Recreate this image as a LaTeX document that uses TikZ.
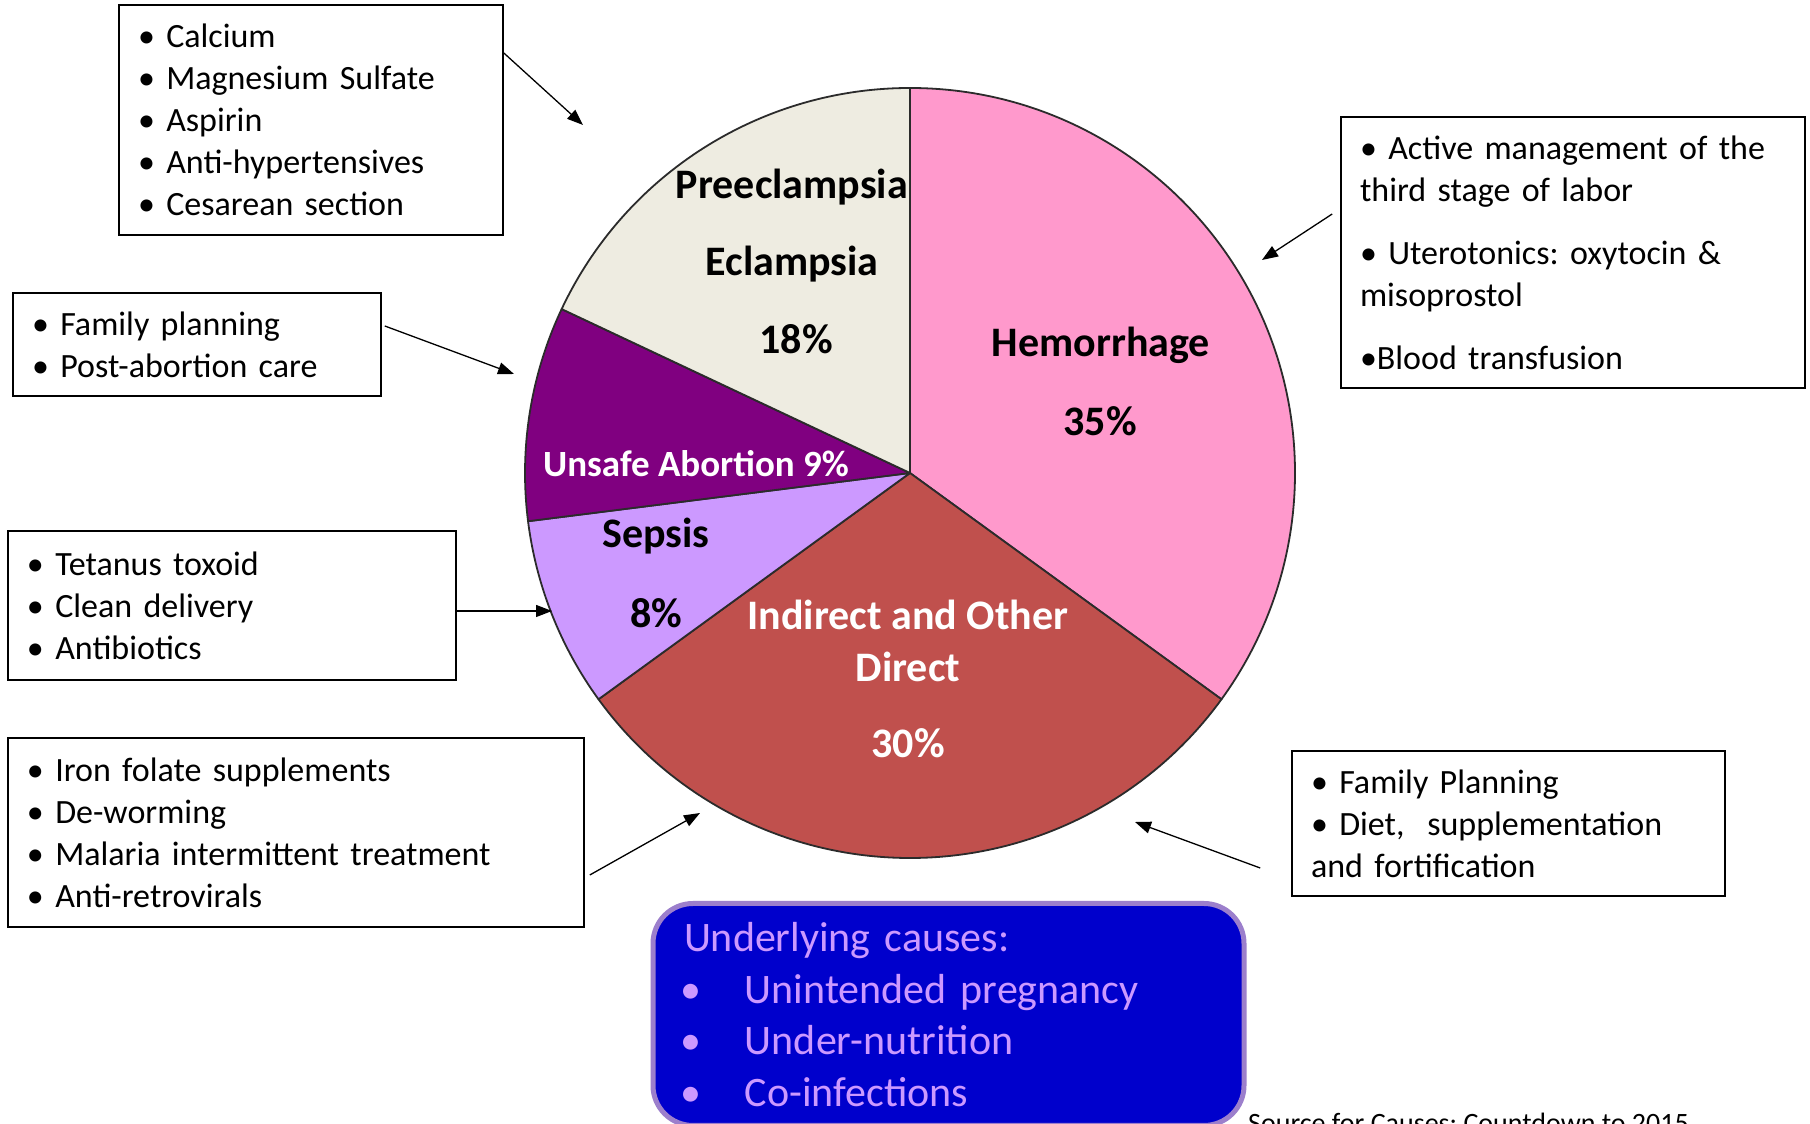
\documentclass[tikz,border=0pt]{standalone}
\usepackage{fontspec}
\setmainfont{Carlito}
\frenchspacing
\usetikzlibrary{arrows.meta,positioning,calc}
\definecolor{ink}{HTML}{000000}
\definecolor{rim}{HTML}{2B2B2B}
\definecolor{hemo}{HTML}{FF99CC}
\definecolor{indirect}{HTML}{C0504D}
\definecolor{sepsis}{HTML}{CC99FF}
\definecolor{abortion}{HTML}{800080}
\definecolor{preec}{HTML}{EEECE1}
\definecolor{causefill}{HTML}{0000CC}
\definecolor{causeedge}{HTML}{9C7FCC}
\definecolor{causetext}{HTML}{CC99FF}

\tikzset{
  actionbox/.style={
    draw=ink,
    line width=1.6pt,
    align=left,
    inner xsep=19pt,
    inner ysep=0pt,
    font=\fontsize{34}{42}\selectfont
  },
  slicelabel/.style={
    inner sep=0pt,
    font=\fontsize{42}{50}\selectfont\bfseries
  },
  pointer/.style={
    draw=ink,
    line width=1.3pt,
    -{Triangle[length=16pt,width=12pt]}
  },
  slice/.style={
    draw=rim,
    line width=1.8pt,
    line join=round
  }
}

\begin{document}
\begin{tikzpicture}[x=1pt,y=1pt]
  \useasboundingbox (0,0) rectangle (1810,1124);
  \fill[white] (0,0) rectangle (1810,1124);

  \coordinate (pie) at (910,651);
  \foreach \from/\to/\col in {90/-36/hemo, -36/-144/indirect, -144/-172.8/sepsis,
      -172.8/-205.2/abortion, 154.8/90/preec}
    \draw[slice, fill=\col] (pie) -- ++(\from:385) arc[start angle=\from, end angle=\to, radius=385] -- cycle;

  \node[slicelabel] (preeLbl) at (792,937) {Preeclampsia};
  \node[slicelabel] (eclLbl) at (792,860) {Eclampsia};
  \node[slicelabel] (preePct) at (796,785) {18\%};
  \node[slicelabel] (hemoLbl) at (1101,779) {Hemorrhage};
  \node[slicelabel] (hemoPct) at (1100,703) {35\%};
  \node[slicelabel, text=white, font=\fontsize{37}{44}\selectfont\bfseries] (abortLbl) at (696,660) {Unsafe Abortion 9\%};
  \node[slicelabel] (sepsisLbl) at (656,588) {Sepsis};
  \node[slicelabel] (sepsisPct) at (656,511) {8\%};
  \node[slicelabel, text=white] (indLbl) at (908,509) {Indirect and Other};
  \node[slicelabel, text=white] (indLbl2) at (908,457) {Direct};
  \node[slicelabel, text=white] (indPct) at (908,381) {30\%};

  \node[actionbox, text width=346pt, minimum height=230pt] (preeBox) at (311,1004)
    {• Calcium\\ • Magnesium Sulfate\\ • Aspirin\\ • Anti-hypertensives\\ • Cesarean section};
  \node[actionbox, text width=330pt, minimum height=103pt] (abortBox) at (197,779.5)
    {• Family planning\\ • Post-abortion care};
  \node[actionbox, text width=410pt, minimum height=149pt] (sepsisBox) at (232,518.5)
    {• Tetanus toxoid\\ • Clean delivery\\ • Antibiotics};
  \node[actionbox, text width=538pt, minimum height=189pt] (indBox) at (296,291.5)
    {• Iron folate supplements\\ • De-worming\\ • Malaria intermittent treatment\\ • Anti-retrovirals};
  \node[actionbox, text width=426pt, minimum height=271pt] (hemoBox) at (1573,871.5)
    {• Active management of the\\ third stage of labor\\[21pt] • Uterotonics: oxytocin \&\\ misoprostol\\[21pt] •Blood transfusion};
  \node[actionbox, text width=395pt, minimum height=145pt] (dietBox) at (1508.5,300.5)
    {• Family Planning\\ • Diet,\ \ supplementation\\ and fortification};

  \coordinate (preeTip) at (583,999);
  \coordinate (abortTip) at (514,750);
  \coordinate (sepsisTip) at (552,513);
  \coordinate (indTip) at (700,311);
  \coordinate (hemoTip) at (1262,864);
  \coordinate (dietTip) at (1135,302);

  \draw[pointer] ([yshift=67pt]preeBox.east) -- (preeTip);
  \draw[pointer] ([xshift=3pt,yshift=18.5pt]abortBox.east) -- (abortTip);
  \draw[pointer] ([yshift=-5.5pt]sepsisBox.east) -- (sepsisTip);
  \draw[pointer] ([xshift=5pt,yshift=-42.5pt]indBox.east) -- (indTip);
  \draw[pointer] ([xshift=-8pt,yshift=38.5pt]hemoBox.west) -- (hemoTip);
  \draw[pointer] ([xshift=-31pt,yshift=-44.5pt]dietBox.west) -- (dietTip);

  \node[
    fill=causefill,
    draw=causeedge,
    line width=5pt,
    rounded corners=40pt,
    text=causetext,
    align=left,
    inner xsep=31pt,
    inner ysep=0pt,
    text width=529pt,
    minimum height=222pt,
    font=\fontsize{42}{51.7}\selectfont
  ] (causes) at (948.5,109.5)
    {Underlying causes:\\
     \hspace*{-4pt}\makebox[65pt][l]{•}Unintended pregnancy\\
     \hspace*{-4pt}\makebox[65pt][l]{•}Under-nutrition\\
     \hspace*{-4pt}\makebox[65pt][l]{•}Co-infections};

  \node[anchor=north west, inner sep=0pt, font=\fontsize{28}{34}\selectfont] (source) at (1248,11)
    {Source for Causes: Countdown to 2015};
\end{tikzpicture}
\end{document}
